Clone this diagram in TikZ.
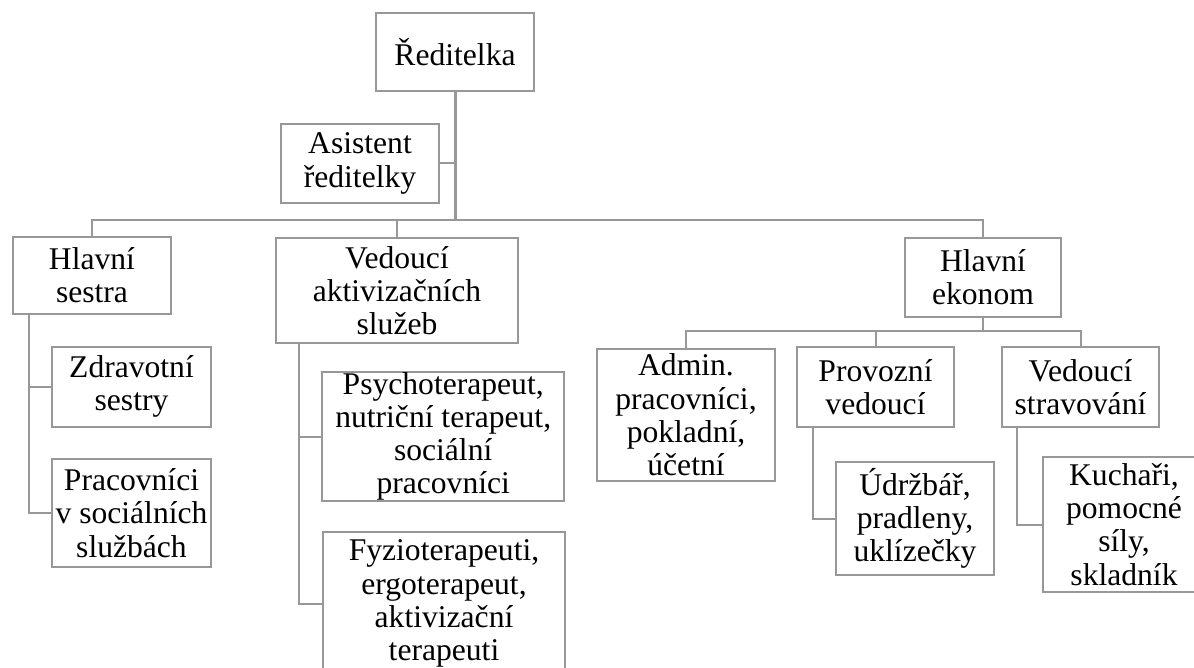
\documentclass[tikz,border=0pt]{standalone}
\usepackage{fontspec}
\setmainfont{Liberation Serif}
\usetikzlibrary{calc}
\definecolor{linegray}{RGB}{152,152,152}
\tikzset{
  orgbox/.style={draw=linegray, line width=1pt, fill=white, align=center,
    inner sep=0pt, font=\fontsize{15.8}{16.6}\selectfont},
  link/.style={draw=linegray, line width=1pt},
  trunk/.style={draw=linegray, line width=1.5pt},
}
\begin{document}
\begin{tikzpicture}[x=0.5pt,y=-0.5pt]
\useasboundingbox (0,0) rectangle (1194,668);
\begin{scope}
\clip (0,0) rectangle (1194,668);
% nodes
\node[orgbox, minimum width=79pt, minimum height=39pt] (R) at (455,51.7) {Ředitelka};
\node[orgbox, minimum width=79pt, minimum height=39.5pt] (A) at (360,163.5) {Asistent\\ředitelky};
\node[orgbox, minimum width=79pt, minimum height=38.7pt] (HS) at (92,275.3) {Hlavní\\sestra};
\node[orgbox, minimum width=121pt, minimum height=52.8pt] (VA) at (397,290.5) {Vedoucí\\aktivizačních\\služeb};
\node[orgbox, minimum width=78pt, minimum height=39.5pt] (HE) at (983,277.2) {Hlavní\\ekonom};
\node[orgbox, minimum width=79.5pt, minimum height=40.2pt] (ZS) at (131.5,386.8) {Zdravotní\\sestry};
\node[orgbox, minimum width=79.5pt, minimum height=53.7pt] (PC) at (131.5,513) {Pracovníci\\v sociálních\\službách};
\node[orgbox, minimum width=121.2pt, minimum height=64.2pt] (PS) at (443.2,436.5) {Psychoterapeut,\\nutriční terapeut,\\sociální\\pracovníci};
\node[orgbox, minimum width=121pt, minimum height=71.5pt] (FY) at (444,603.5) {Fyzioterapeuti,\\ergoterapeut,\\aktivizační\\terapeuti};
\node[orgbox, minimum width=89pt, minimum height=65.9pt] (AD) at (686,414.8) {Admin.\\pracovníci,\\pokladní,\\účetní};
\node[orgbox, minimum width=78.5pt, minimum height=39.9pt] (PV) at (875.5,387.2) {Provozní\\vedoucí};
\node[orgbox, minimum width=78.5pt, minimum height=39.9pt] (VS) at (1080.5,387.2) {Vedoucí\\stravování};
\node[orgbox, minimum width=79pt, minimum height=56.5pt] (UD) at (915,518.5) {Údržbář,\\pradleny,\\uklízečky};
\node[orgbox, minimum width=81pt, minimum height=67.8pt] (KU) at (1124,524.5) {Kuchaři,\\pomocné\\síly,\\skladník};
% junction coordinates
\coordinate (bus) at (455,220);
\coordinate (bustwo) at (983,331);
\coordinate (hsx) at ($(HS.south west)+(16.5,0)$);
\coordinate (vax) at ($(VA.south west)+(24,0)$);
\coordinate (pvx) at ($(PV.south west)+(17,0)$);
\coordinate (vsx) at ($(VS.south west)+(16,0)$);
% connectors
\draw[trunk] (R.south) -- (bus);
\draw[link] (A.east) -- (A.east -| bus);
\draw[link] (HS.north) |- (bus) -| (HE.north);
\draw[link] (VA.north) -- (VA.north |- bus);
\draw[link] (hsx) |- (ZS.west);
\draw[link] (hsx) |- (PC.west);
\draw[link] (vax) |- (PS.west);
\draw[link] (vax) |- (FY.west);
\draw[link] (HE.south) -- (bustwo);
\draw[link] (AD.north) |- (bustwo) -| (VS.north);
\draw[link] (PV.north) -- (PV.north |- bustwo);
\draw[link] (pvx) |- (UD.west);
\draw[link] (vsx) |- (KU.west);
\end{scope}
\end{tikzpicture}
\end{document}
